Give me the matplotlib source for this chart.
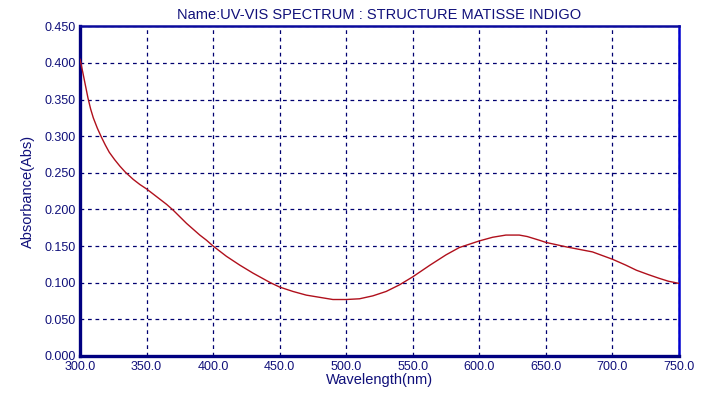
import numpy as np
import matplotlib.pyplot as plt
from matplotlib.ticker import FormatStrFormatter

# spectrum values
wavelength = [300, 302, 304, 306, 308, 310, 313, 316, 319, 322, 326, 330, 334,
              340, 345, 350, 355, 360, 365, 370, 375, 380, 385, 390, 395, 400,
              410, 420, 430, 443, 450, 460, 470, 480, 490, 500, 510, 520, 530,
              540, 550, 563, 575, 585, 595, 600, 610, 620, 630, 636, 645, 650,
              665, 685, 700, 710, 718, 727, 735, 742, 750]
absorbance = [0.405, 0.388, 0.370, 0.352, 0.337, 0.325, 0.311, 0.299, 0.288,
              0.278, 0.268, 0.259, 0.251, 0.241, 0.234, 0.228, 0.221, 0.214,
              0.207, 0.199, 0.190, 0.181, 0.173, 0.165, 0.158, 0.150, 0.136,
              0.124, 0.113, 0.100, 0.094, 0.088, 0.083, 0.080, 0.077, 0.077,
              0.078, 0.082, 0.088, 0.097, 0.108, 0.124, 0.138, 0.148, 0.154,
              0.157, 0.162, 0.165, 0.165, 0.163, 0.158, 0.155, 0.149, 0.142,
              0.132, 0.124, 0.117, 0.111, 0.106, 0.102, 0.099]

x_ticks = np.arange(300, 751, 50)
y_ticks = np.arange(0, 0.451, 0.05)

navy = '#10107a'
plt.rcParams['font.family'] = ['Liberation Sans', 'DejaVu Sans']

fig = plt.figure(figsize=(7.08, 3.99), dpi=100)
ax = fig.add_axes([0.113, 0.108, 0.846, 0.826])

ax.plot(wavelength, absorbance, color='#b0101c', lw=1.0, zorder=3)

ax.set_xlim(300, 750)
ax.set_ylim(0, 0.45)
ax.set_xticks(x_ticks)
ax.set_yticks(y_ticks)
ax.xaxis.set_major_formatter(FormatStrFormatter('%.1f'))
ax.yaxis.set_major_formatter(FormatStrFormatter('%.3f'))
ax.tick_params(length=0, labelsize=9, labelcolor=navy)
ax.tick_params(axis='x', pad=4)
ax.tick_params(axis='y', pad=3)

ax.grid(True, color='#000070', lw=0.9, ls=(0, (3, 3)))

# spines: left/bottom thick navy, top/right blue
ax.spines['left'].set_color('#000080')
ax.spines['left'].set_linewidth(2.4)
ax.spines['bottom'].set_color('#000080')
ax.spines['bottom'].set_linewidth(2.4)
ax.spines['top'].set_color('#0a0a9c')
ax.spines['top'].set_linewidth(1.8)
ax.spines['right'].set_color('#0000d0')
ax.spines['right'].set_linewidth(1.8)

ax.set_title('Name:UV-VIS SPECTRUM : STRUCTURE MATISSE INDIGO',
             fontsize=10.5, color=navy, pad=5)
ax.set_xlabel('Wavelength(nm)', fontsize=10.5, color=navy, labelpad=0)
ax.set_ylabel('Absorbance(Abs)', fontsize=10.5, color=navy, labelpad=7)

fig.savefig('out.png', dpi=100)
